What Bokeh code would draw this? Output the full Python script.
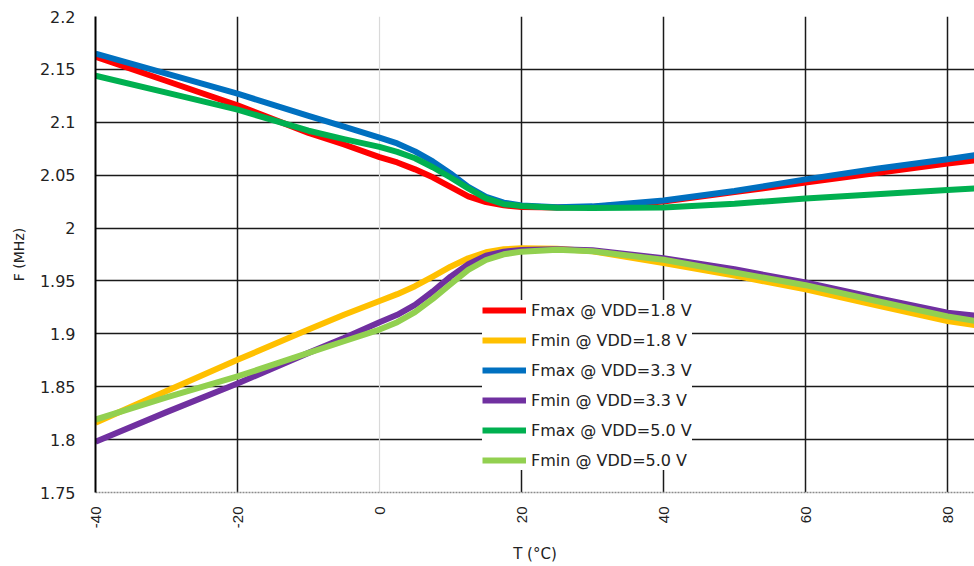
import math
from bokeh.plotting import figure
from bokeh.models import FixedTicker, Span, Legend, LegendItem, Range1d
from bokeh.embed import file_html
from bokeh.resources import INLINE

# ---- data ----
T = [-40, -30, -20, -10, -5, 0, 2.5, 5, 7.5, 10, 12.5, 15, 17.5, 20, 25, 30, 40, 50, 60, 70, 80, 85]

fmax_18 = [2.162, 2.139, 2.116, 2.090, 2.079, 2.067, 2.062, 2.0555, 2.048, 2.039, 2.030, 2.0245,
           2.0215, 2.020, 2.0195, 2.020, 2.025, 2.034, 2.043, 2.052, 2.061, 2.065]
fmin_18 = [1.816, 1.846, 1.8755, 1.904, 1.918, 1.931, 1.9375, 1.945, 1.9541, 1.9635, 1.9714, 1.9771,
           1.9799, 1.9808, 1.9805, 1.978, 1.967, 1.955, 1.942, 1.927, 1.912, 1.907]
fmax_33 = [2.165, 2.146, 2.127, 2.106, 2.096, 2.0855, 2.080, 2.0725, 2.063, 2.0516, 2.039, 2.0296,
           2.024, 2.0214, 2.0197, 2.0205, 2.026, 2.035, 2.046, 2.056, 2.065, 2.070]
fmin_33 = [1.798, 1.826, 1.853, 1.882, 1.896, 1.911, 1.918, 1.9274, 1.940, 1.9541, 1.9658, 1.9739,
           1.9777, 1.9792, 1.980, 1.979, 1.9715, 1.961, 1.9485, 1.934, 1.920, 1.9165]
fmax_50 = [2.144, 2.128, 2.112, 2.092, 2.084, 2.0767, 2.072, 2.066, 2.0575, 2.0478, 2.0375, 2.028,
           2.0226, 2.0208, 2.0192, 2.019, 2.0195, 2.023, 2.028, 2.032, 2.036, 2.038]
fmin_50 = [1.819, 1.840, 1.8597, 1.882, 1.893, 1.904, 1.911, 1.9205, 1.933, 1.9469, 1.9604, 1.9698,
           1.9752, 1.9777, 1.9795, 1.978, 1.970, 1.958, 1.946, 1.931, 1.9165, 1.911]

series_names = ["Fmax @ VDD=1.8 V", "Fmin @ VDD=1.8 V", "Fmax @ VDD=3.3 V",
                "Fmin @ VDD=3.3 V", "Fmax @ VDD=5.0 V", "Fmin @ VDD=5.0 V"]
series_values = [fmax_18, fmin_18, fmax_33, fmin_33, fmax_50, fmin_50]
series_colors = ["#FF0000", "#FFC000", "#0070C0", "#7030A0", "#00B050", "#92D050"]

x_ticks = [-40, -20, 0, 20, 40, 60, 80]
x_tick_labels = ["-40", "-20", "0", "20", "40", "60", "80"]
x_grid_ticks = [-20, 20, 40, 60, 80]
y_ticks = [1.75, 1.8, 1.85, 1.9, 1.95, 2.0, 2.05, 2.1, 2.15, 2.2]
y_tick_labels = ["1.75", "1.8", "1.85", "1.9", "1.95", "2", "2.05", "2.1", "2.15", "2.2"]
y_grid_ticks = [1.8, 1.85, 1.9, 1.95, 2.0, 2.05, 2.1, 2.15, 2.2]

x_min, x_max = -40, 83.8
y_min, y_max = 1.75, 2.2

TEXT = "#222222"
FONT = "DejaVu Sans"
TICK_FONT_X = "Liberation Sans"

p = figure(width=974, height=566, output_backend="svg", toolbar_location=None,
           x_range=Range1d(x_min, x_max), y_range=Range1d(y_min, y_max),
           min_border_left=95, min_border_right=0, min_border_top=16, min_border_bottom=73)
p.outline_line_color = None
p.background_fill_color = "white"
p.border_fill_color = "white"

# grids
p.xgrid.ticker = FixedTicker(ticks=x_grid_ticks)
p.xgrid.grid_line_color = "#1a1a1a"
p.xgrid.grid_line_width = 1.5
p.ygrid.ticker = FixedTicker(ticks=y_grid_ticks)
p.ygrid.grid_line_color = "#1a1a1a"
p.ygrid.grid_line_width = 1.5
zero_line = Span(location=0, dimension="height", line_color="#d9d9d9", line_width=1.2,
                 level="underlay")
p.add_layout(zero_line)

# x axis
xa = p.xaxis[0]
xa.ticker = FixedTicker(ticks=x_ticks)
xa.major_label_overrides = {t: s for t, s in zip(x_ticks, x_tick_labels)}
xa.major_label_orientation = math.pi / 2
xa.major_tick_line_color = None
xa.major_tick_out = 0
xa.major_tick_in = 0
xa.minor_tick_line_color = None
xa.minor_tick_out = 0
xa.axis_line_color = "#8c8c8c"
xa.axis_line_dash = "2 1"
xa.axis_line_width = 1.5
xa.major_label_text_font = TICK_FONT_X
xa.major_label_text_font_size = "15px"
xa.major_label_text_color = TEXT
xa.major_label_standoff = 14
xa.axis_label = "T (°C)"
xa.axis_label_text_font = FONT
xa.axis_label_text_font_size = "15px"
xa.axis_label_text_font_style = "normal"
xa.axis_label_text_color = TEXT
xa.axis_label_standoff = 14

# y axis
ya = p.yaxis[0]
ya.ticker = FixedTicker(ticks=y_ticks)
ya.major_label_overrides = {t: s for t, s in zip(y_ticks, y_tick_labels)}
ya.major_tick_line_color = None
ya.major_tick_out = 0
ya.major_tick_in = 0
ya.minor_tick_line_color = None
ya.minor_tick_out = 0
ya.axis_line_color = "#000000"
ya.axis_line_width = 2
ya.major_label_text_font = FONT
ya.major_label_text_font_size = "16px"
ya.major_label_text_color = TEXT
ya.major_label_standoff = 20
ya.axis_label = "F (MHz)"
ya.axis_label_text_font = FONT
ya.axis_label_text_font_size = "14px"
ya.axis_label_text_font_style = "normal"
ya.axis_label_text_color = TEXT
ya.axis_label_standoff = 10

items = []
for name, vals, col in zip(series_names, series_values, series_colors):
    r = p.line(T, vals, line_color=col, line_width=6, line_join="round", line_cap="butt")
    items.append(LegendItem(label=name, renderers=[r]))

legend = Legend(items=items, location=(387, 22), orientation="vertical",
                glyph_width=44, glyph_height=20, label_height=20, spacing=10,
                padding=6, margin=0, label_standoff=5,
                label_text_font=FONT, label_text_font_size="16px", label_text_color=TEXT,
                border_line_color=None, background_fill_color="white", background_fill_alpha=1.0)
p.add_layout(legend)

open("out.html", "w").write(file_html(p, INLINE))
